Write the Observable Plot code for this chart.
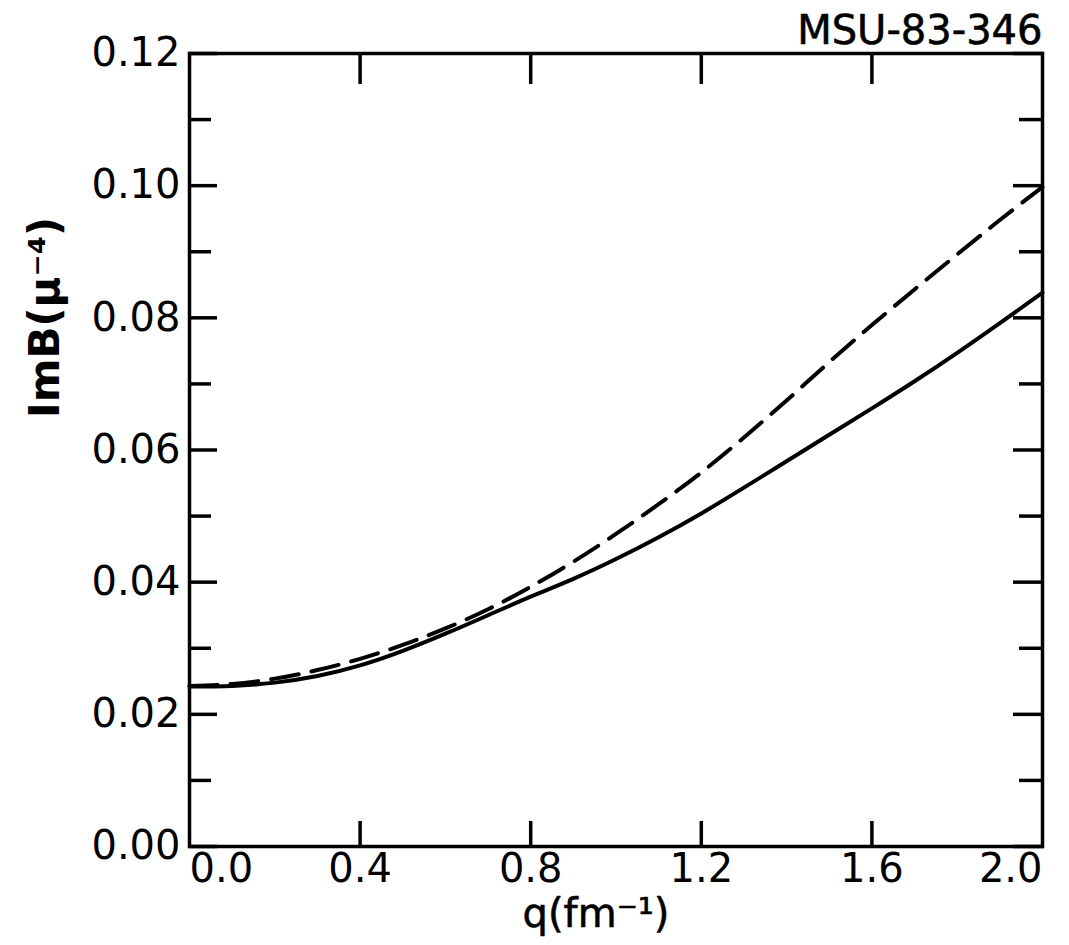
<!DOCTYPE html>
<html><head><meta charset="utf-8">
<script src="https://cdn.jsdelivr.net/npm/d3@7"></script>
<script src="https://cdn.jsdelivr.net/npm/@observablehq/plot@0.6"></script>
<style>body{margin:0;background:#fff;}</style>
</head><body><div id="chart"></div>
<script>
const q = [0,0.1,0.2,0.3,0.4,0.5,0.6,0.7,0.8,0.9,1.0,1.1,1.2,1.3,1.4,1.5,1.6,1.7,1.8,1.9,2.0];
const solidVals = [0.0242,0.0243,0.0248,0.0258,0.0274,0.0296,0.0322,0.0350,0.0378,0.0405,0.0435,0.0468,0.0504,0.0543,0.0583,0.0623,0.0663,0.0704,0.0747,0.0792,0.0838];
const dashedVals = [0.0243,0.0246,0.0254,0.0267,0.0284,0.0305,0.0330,0.0359,0.0393,0.0431,0.0473,0.0518,0.0566,0.0619,0.0675,0.0733,0.0789,0.0843,0.0896,0.0948,0.0998];
const xMid = [0.4,0.8,1.2,1.6];
const xMidLabels = ["0.4","0.8","1.2","1.6"];
const xFirst = [0.0], xFirstLabel = ["0.0"];
const xLast = [2.0], xLastLabel = ["2.0"];
const yMajor = [0,0.02,0.04,0.06,0.08,0.10,0.12];
const yMajorLabels = ["0.00","0.02","0.04","0.06","0.08","0.10","0.12"];
const yMinor = [0.01,0.03,0.05,0.07,0.09,0.11];
const title = "MSU-83-346";
const xLabel = "q(fm⁻¹)";
const yLabel = "ImB(μ⁻⁴)";

const solid = q.map((x,i)=>({q:x, v:solidVals[i]}));
const dashed = q.map((x,i)=>({q:x, v:dashedVals[i]}));
const fmt = (ticks, labels) => d => labels[ticks.indexOf(d)];
const FS = 40;
const font = "DejaVu Sans";
const tickStyle = {fill:"none", strokeWidth:3.5, label:null};
const textStyle = {tickSize:0, fontSize:FS, label:null, fill:"black", stroke:"black", strokeWidth:0.6};

const chart = Plot.plot({
  width:1069, height:945,
  marginTop:53, marginBottom:99, marginLeft:189, marginRight:27,
  x:{domain:[0,2], label:null},
  y:{domain:[0,0.12], label:null},
  style:{fontFamily:font, fontSize:FS+"px", background:"white", color:"black"},
  marks:[
    Plot.frame({strokeWidth:3.5}),
    Plot.axisY(yMajor,{anchor:"left", tickSize:-28, ...tickStyle}),
    Plot.axisY(yMinor,{anchor:"left", tickSize:-22, ...tickStyle}),
    Plot.axisY(yMajor,{anchor:"right", tickSize:-30, ...tickStyle}),
    Plot.axisY(yMinor,{anchor:"right", tickSize:-24, ...tickStyle}),
    Plot.axisX(xMid,{anchor:"bottom", tickSize:-25, ...tickStyle}),
    Plot.axisX(xMid,{anchor:"top", tickSize:-30, ...tickStyle}),
    Plot.axisY(yMajor,{anchor:"left", tickPadding:9, tickFormat:fmt(yMajor,yMajorLabels), ...textStyle}),
    Plot.axisX(xMid,{anchor:"bottom", tickPadding:7, tickFormat:fmt(xMid,xMidLabels), ...textStyle}),
    Plot.axisX(xFirst,{anchor:"bottom", tickPadding:7, textAnchor:"start", tickFormat:fmt(xFirst,xFirstLabel), ...textStyle}),
    Plot.axisX(xLast,{anchor:"bottom", tickPadding:7, textAnchor:"end", tickFormat:fmt(xLast,xLastLabel), ...textStyle}),
    Plot.line(solid,{x:"q", y:"v", curve:"natural", stroke:"black", strokeWidth:4}),
    Plot.line(dashed,{x:"q", y:"v", curve:"natural", stroke:"black", strokeWidth:4, strokeDasharray:"28,13"}),
    Plot.text([title],{frameAnchor:"top-right", textAnchor:"end", dy:-38, fontSize:FS, fill:"black", stroke:"black", strokeWidth:0.6}),
    Plot.text([xLabel],{frameAnchor:"bottom", dx:-20, dy:80, fontSize:FS, fill:"black", stroke:"black", strokeWidth:0.6}),
    Plot.text([yLabel],{frameAnchor:"left", rotate:-90, dx:-144, dy:-32, fontSize:FS+2, fontWeight:"bold", fill:"black"})
  ]
});
document.getElementById("chart").append(chart);
</script>
</body></html>
